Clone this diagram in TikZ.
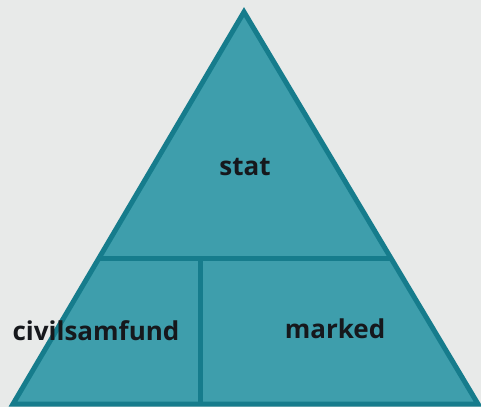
\documentclass[tikz,border=0pt]{standalone}
\usepackage{fontspec}
\setmainfont{Open Sans}
\definecolor{paper}{RGB}{232,234,233}
\definecolor{tealfill}{RGB}{62,158,172}
\definecolor{tealline}{RGB}{22,124,140}
\definecolor{ink}{RGB}{22,24,28}
\begin{document}
\begin{tikzpicture}[x=1pt,y=1pt,
  edge/.style={draw=tealline,line width=5pt,line join=miter},
  lbl/.style={text=ink,font=\bfseries\fontsize{26}{30}\selectfont,inner sep=0pt}]
\fill[paper] (0,0) rectangle (481,407);
\useasboundingbox (0,0) rectangle (481,407);
\coordinate (apex) at (244,395);
\coordinate (bl) at (13,3);
\coordinate (br) at (478,3);
\coordinate (ml) at (99,149);
\coordinate (mr) at (391,149);
\coordinate (vt) at (200,149);
\coordinate (vb) at (200,3);
\fill[tealfill] (apex) -- (bl) -- (br) -- cycle;
\draw[edge] (ml) -- (mr);
\draw[edge] (vt) -- (vb);
\draw[edge] (apex) -- (bl) -- (br) -- cycle;
\node[lbl] (stat) at (245,240) {stat};
\node[lbl] (civ) at (96,76) {civilsamfund};
\node[lbl] (mark) at (335,78) {marked};
\end{tikzpicture}
\end{document}
